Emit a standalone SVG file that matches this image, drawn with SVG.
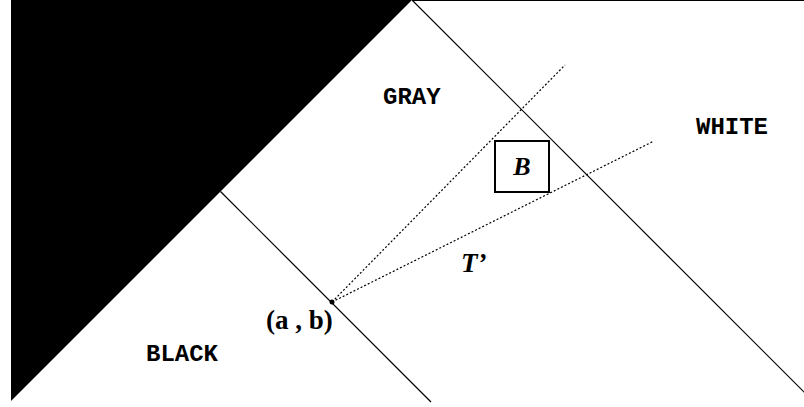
<svg xmlns="http://www.w3.org/2000/svg" width="804" height="407" viewBox="0 0 804 407">
<style>
.ln{stroke:#000;stroke-width:1.2;fill:none}
.dt{stroke:#000;stroke-width:1.2;fill:none;stroke-dasharray:2 2}
.mono{font-family:"Liberation Mono","Courier New",monospace;font-weight:bold;font-size:24px;fill:#000}
.ser{font-family:"Liberation Serif","Times New Roman",serif;font-weight:bold;fill:#000}
</style>
<rect width="804" height="407" fill="#fff"/>
<g id="black-region">
<polygon points="11,0 412,0 11,401" fill="#000"/>
</g>
<g id="connectors">
<line class="ln" x1="412" y1="0.5" x2="804" y2="0.5"/>
<line class="ln" x1="412" y1="0" x2="805" y2="393"/>
<line class="ln" x1="220.5" y1="191.5" x2="431" y2="402"/>
<line class="dt" x1="332" y1="302" x2="565" y2="65"/>
<line class="dt" x1="332" y1="302" x2="654" y2="141"/>
</g>
<g id="point-ab">
<circle cx="332" cy="302" r="2.5" fill="#000"/>
<text class="ser" x="266" y="329" font-size="27">(a , b)</text>
</g>
<g id="box-B">
<rect x="495" y="141" width="54" height="51" fill="#fff" stroke="#000" stroke-width="2"/>
<text class="ser" x="522" y="175" font-size="26" font-style="italic" text-anchor="middle">B</text>
</g>
<g id="label-T">
<text class="ser" x="461" y="272" font-size="27" font-style="italic">T’</text>
</g>
<g id="label-gray"><text class="mono" x="383" y="104">GRAY</text></g>
<g id="label-white"><text class="mono" x="696" y="134">WHITE</text></g>
<g id="label-black"><text class="mono" x="146" y="361">BLACK</text></g>
</svg>
